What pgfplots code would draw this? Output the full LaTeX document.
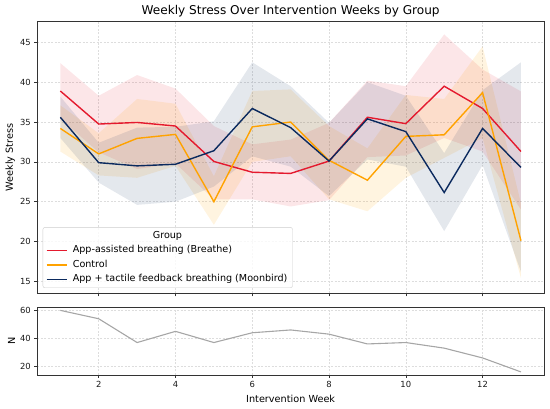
\documentclass[border=0pt]{standalone}
\usepackage{pgfplots}
\pgfplotsset{compat=1.18}
\usepackage{pgfplotstable}
\usepgfplotslibrary{fillbetween}
\usepackage{fontspec}
\setmainfont{DejaVu Sans}
\definecolor{cred}{HTML}{E41A2E}
\definecolor{corange}{HTML}{FFA200}
\definecolor{cnavy}{HTML}{0B2A5E}
\definecolor{cgrid}{HTML}{DDDDDD}
\definecolor{cn}{HTML}{A6A6A6}

\pgfplotstableread{
w rm rl rh om ol oh nm nl nh
1 38.9 35.4 42.4 34.2 31.3 37.1 35.6 33.0 38.2
2 34.75 31.2 38.3 31.0 28.3 33.6 29.9 27.4 32.4
3 34.95 29.1 40.9 32.95 28.0 37.9 29.5 24.6 34.3
4 34.5 29.8 39.2 33.45 29.5 37.3 29.7 25.0 34.4
5 30.05 25.3 34.5 25.0 22.1 28.2 31.4 26.9 35.1
6 28.7 25.3 32.2 34.4 30.0 38.9 36.7 30.7 42.5
7 28.55 24.4 32.8 35.0 30.7 39.1 34.3 29.4 39.5
8 30.1 25.2 34.9 30.2 25.3 34.5 30.1 25.7 34.9
9 35.6 30.6 40.2 27.7 23.8 31.7 35.4 30.3 40.0
10 34.8 30.8 39.5 33.2 28.0 38.4 33.8 29.4 38.3
11 39.5 33.0 46.0 33.4 30.5 37.9 26.15 21.3 31.1
12 36.7 31.3 41.6 38.7 33.0 44.5 34.2 29.6 39.0
13 31.3 24.0 38.85 20.1 15.4 24.8 29.3 16.2 42.5
}\stress

\pgfplotstableread{
w n
1 60
2 54
3 37
4 45
5 37
6 44
7 46
8 43
9 36
10 37
11 33
12 26
13 16
}\counts

\pgfplotsset{
  common/.style={
    scale only axis, width=506.7pt,
    xmin=0.4, xmax=13.6, xtick={2,4,...,12},
    tick align=outside, xtick pos=left, ytick pos=left,
    major tick length=3pt,
    tick style={black!80, line width=0.6pt},
    axis line style={black!80, line width=0.8pt},
    grid=major,
    major grid style={cgrid, line width=0.5pt, dash pattern=on 2pt off 1.5pt},
    /pgf/number format/assume math mode=true,
    tick label style={font=\fontsize{8.4}{10}\selectfont, black!90},
    xlabel style={font=\fontsize{9.7}{11.5}\selectfont},
    every axis y label/.style={at={(axis description cs:-0.037,0.5)}, rotate=90, anchor=south, font=\fontsize{9.7}{11.5}\selectfont},
  },
  band/.style={draw=none, forget plot},
}

\begin{document}
\begin{tikzpicture}[font=\fontsize{8.4}{10}\selectfont]

\begin{axis}[common,
  at={(0pt,81.7pt)}, anchor=south west, height=271.6pt,
  ymin=13.5, ymax=47.6, ytick={15,20,...,45},
  xticklabels={},
  ylabel={Weekly Stress},
  title={Weekly Stress Over Intervention Weeks by Group},
  title style={font=\fontsize{12.1}{14}\selectfont, yshift=-4.5pt},
  legend style={at={(0.0107,0.0195)}, anchor=south west, draw=black!20,
    rounded corners=2pt, fill=white, fill opacity=0.8, text opacity=1,
    font=\fontsize{9.6}{11.5}\selectfont, cells={anchor=west},
    nodes={text height=7.3pt, text depth=2.3pt, inner ysep=1pt},
    row sep=3pt, inner xsep=3pt, inner ysep=2.5pt},
  legend image code/.code={\draw[#1] (0pt,0pt) -- (20pt,0pt); \path (23.5pt,0pt);},
]
\addlegendimage{empty legend}
\addlegendentry{\hspace*{80pt}Group}
\addlegendimage{cred, line width=1.4pt}
\addlegendentry{App-assisted breathing (Breathe)}
\addlegendimage{corange, line width=1.4pt}
\addlegendentry{Control}
\addlegendimage{cnavy, line width=1.4pt}
\addlegendentry{App + tactile feedback breathing (Moonbird)}

\addplot[band, name path=rh] table[x=w, y=rh] {\stress};
\addplot[band, name path=rl] table[x=w, y=rl] {\stress};
\addplot[fill=cred, fill opacity=0.11, draw=none, forget plot] fill between[of=rh and rl];
\addplot[band, name path=oh] table[x=w, y=oh] {\stress};
\addplot[band, name path=ol] table[x=w, y=ol] {\stress};
\addplot[fill=corange, fill opacity=0.12, draw=none, forget plot] fill between[of=oh and ol];
\addplot[band, name path=nh] table[x=w, y=nh] {\stress};
\addplot[band, name path=nl] table[x=w, y=nl] {\stress};
\addplot[fill=cnavy, fill opacity=0.11, draw=none, forget plot] fill between[of=nh and nl];

\addplot[cred, line width=1.4pt, forget plot] table[x=w, y=rm] {\stress};
\addplot[corange, line width=1.4pt, forget plot] table[x=w, y=om] {\stress};
\addplot[cnavy, line width=1.4pt, forget plot] table[x=w, y=nm] {\stress};
\end{axis}

\begin{axis}[common,
  at={(0pt,0pt)}, anchor=south west, height=67.7pt,
  ymin=13.8, ymax=62.2, ytick={20,40,60},
  xlabel={Intervention Week},
  ylabel={N},
]
\addplot[cn, line width=1.1pt] table[x=w, y=n] {\counts};
\end{axis}
\path (-37.3pt,-34pt) rectangle (512.7pt,375pt);
\end{tikzpicture}
\end{document}
